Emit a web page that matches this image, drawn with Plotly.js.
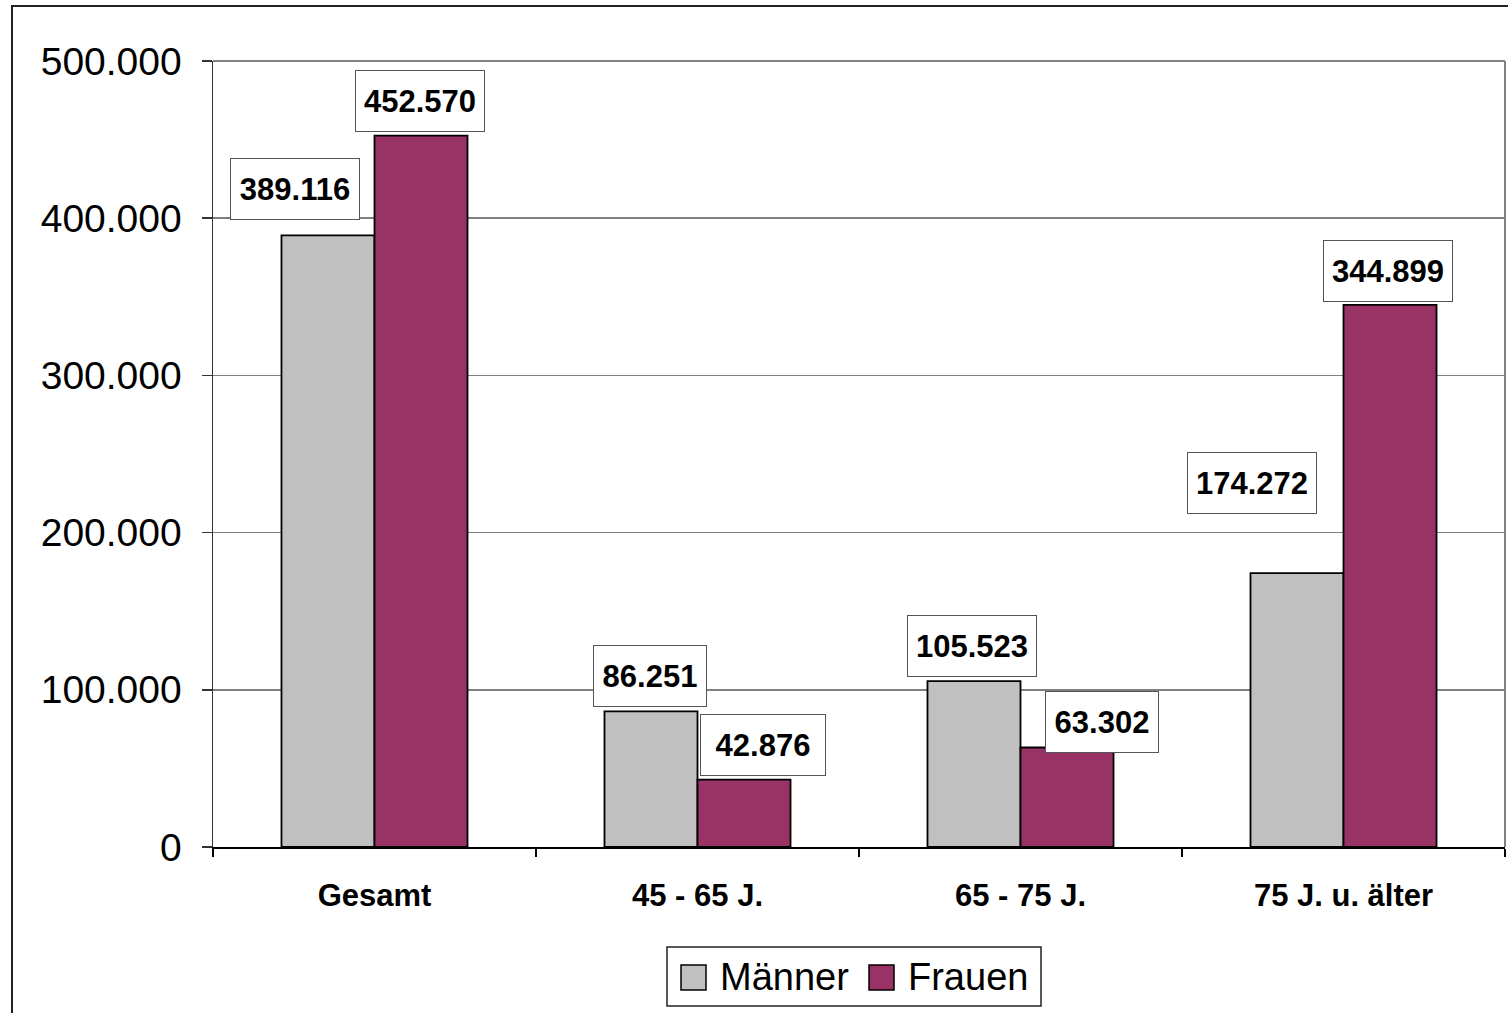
<!DOCTYPE html>
<html>
<head>
<meta charset="utf-8">
<script src="https://cdn.plot.ly/plotly-3.0.1.min.js"></script>
<style>
  html, body { margin: 0; padding: 0; background: #fff; overflow: hidden; }
  #wrap { position: relative; width: 1508px; height: 1013px; }
  #chart { position: absolute; left: 0; top: 0; width: 1508px; height: 1013px; }
  #frame { position: absolute; left: 11px; top: 5px; width: 1600px; height: 1100px;
           border: 2px solid #222; pointer-events: none; box-sizing: border-box; }
</style>
</head>
<body>
<div id="wrap">
  <div id="chart"></div>
  <div id="frame"></div>
</div>
<script>
// ---- data ----
const categories = ["Gesamt", "45 - 65 J.", "65 - 75 J.", "75 J. u. älter"];
const seriesNames = ["Männer", "Frauen"];
const maenner = [389116, 86251, 105523, 174272];
const frauen  = [452570, 42876, 63302, 344899];
const yTicks = [0, 100000, 200000, 300000, 400000, 500000];

// ---- styles ----
const colors = ["#C0C0C0", "#993366"];
const FONT = "Liberation Sans, Arial, sans-serif";
// per-label pixel nudges (style only) [xshift, yshift]
const labelShiftM = [[-33, 15], [-0.5, 4], [-2, 4], [-45, 59]];
const labelShiftF = [[-1, 4], [19, 4], [35, -6], [-2, 3]];
const labelBoxW = [[120, 104, 120, 120], [120, 116, 104, 120]];
const barHalfOffset = 0.144; // half of a bar width in category units

const fmt = v => v.toLocaleString("de-DE");

const traces = [maenner, frauen].map((vals, k) => ({
  type: "bar",
  name: seriesNames[k],
  x: categories,
  y: vals,
  marker: { color: colors[k], line: { color: "#000", width: 1.8 } },
  showlegend: false,
  hoverinfo: "x+y+name"
}));

const annotations = [];
[[maenner, labelShiftM, -1, 0], [frauen, labelShiftF, 1, 1]].forEach(([vals, shifts, side, k]) => {
  vals.forEach((v, i) => {
    annotations.push({
      xref: "x", yref: "y",
      x: i + side * barHalfOffset, y: v,
      xanchor: "center", yanchor: "bottom",
      xshift: shifts[i][0], yshift: shifts[i][1],
      text: fmt(v),
      showarrow: false,
      width: labelBoxW[k][i], height: 52,
      align: "center", valign: "middle",
      font: { family: FONT, size: 31, color: "#000", weight: "bold" },
      bgcolor: "#fff", bordercolor: "#555", borderwidth: 1, borderpad: 4
    });
  });
});

// ---- custom legend (large symbols) ----
const W = 1292, H = 786, L = 213, T = 61;
const px = x => (x - L) / W;
const py = y => (T + H - y) / H;
const shapes = [
  // top and right border of plot area
  { type: "line", xref: "paper", yref: "paper", x0: 0, x1: 1, y0: 1, y1: 1,
    line: { color: "#808080", width: 2 } },
  { type: "line", xref: "paper", yref: "paper", x0: 1, x1: 1, y0: 0, y1: 1,
    line: { color: "#808080", width: 2 } },
  // legend frame
  { type: "rect", xref: "paper", yref: "paper", x0: px(667), x1: px(1041), y0: py(947), y1: py(1006),
    line: { color: "#222", width: 1.5 }, fillcolor: "#fff" }
];
const legendItems = [
  { sq: [681, 706], tx: 718 },
  { sq: [869, 894], tx: 906 }
];
legendItems.forEach((it, k) => {
  shapes.push({ type: "rect", xref: "paper", yref: "paper",
    x0: px(it.sq[0]), x1: px(it.sq[1]), y0: py(965), y1: py(990),
    line: { color: "#000", width: 1.5 }, fillcolor: colors[k] });
  annotations.push({ xref: "paper", yref: "paper", x: px(it.tx), y: py(977),
    xanchor: "left", yanchor: "middle", showarrow: false, text: seriesNames[k],
    font: { family: FONT, size: 38, color: "#000" } });
});

const layout = {
  width: 1508, height: 1013,
  margin: { l: L, r: 1508 - L - W, t: T, b: 1013 - T - H },
  paper_bgcolor: "#fff", plot_bgcolor: "#fff",
  separators: ",.",
  barmode: "group",
  bargap: 0.424, bargroupgap: 0,
  showlegend: false,
  font: { family: FONT, color: "#000" },
  xaxis: {
    type: "category",
    tickson: "boundaries",
    ticks: "outside", ticklen: 8, tickcolor: "#000", tickwidth: 1.5,
    showline: true, linecolor: "#000", linewidth: 2,
    showgrid: false,
    tickfont: { family: FONT, size: 31, color: "#000", weight: "bold" },
    ticklabelstandoff: 20,
    range: [-0.5, 3.5],
    fixedrange: true
  },
  yaxis: {
    range: [0, 500000],
    tickvals: yTicks,
    tickformat: ",d",
    ticks: "outside", ticklen: 10, tickcolor: "#333", tickwidth: 1.5,
    showline: true, linecolor: "#333", linewidth: 1.5,
    showgrid: true, gridcolor: "#808080", gridwidth: 1.5,
    zeroline: false,
    tickfont: { family: FONT, size: 39, color: "#000" },
    ticklabelstandoff: 12,
    fixedrange: true
  },
  annotations: annotations,
  shapes: shapes
};

Plotly.newPlot("chart", traces, layout, { displayModeBar: false, staticPlot: true });
</script>
</body>
</html>
